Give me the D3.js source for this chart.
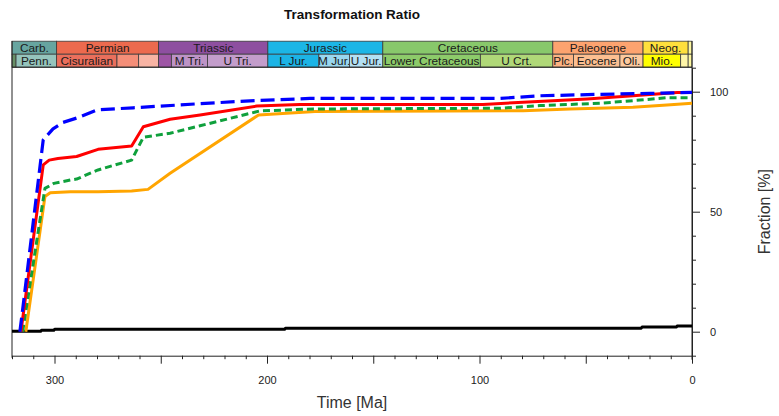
<!DOCTYPE html>
<html>
<head>
<meta charset="utf-8">
<script src="https://cdn.jsdelivr.net/npm/d3@7"></script>
<style>
  body { margin: 0; background: #fff; }
  text { font-family: "Liberation Sans", Arial, sans-serif; }
</style>
</head>
<body>
<svg id="chart" width="779" height="416"></svg>
<script>
// ---- Time axis (Ma) and fraction axis (%) ----
const timeDomain = [320, 0];
const fractionDomain = [-10, 110];
const timeTickLabels = [300, 200, 100, 0];
const fractionTickLabels = [0, 50, 100];

// ---- Stratigraphic chart: periods (upper row) ----
const periodNames = ["Carb.", "Permian", "Triassic", "Jurassic", "Cretaceous", "Paleogene", "Neog.", ""];
const periodBase  = [320, 299.0, 251.0, 199.6, 145.5, 65.5, 23.03, 1.806];
const periodTop   = [299.0, 251.0, 199.6, 145.5, 65.5, 23.03, 1.806, 0];

// ---- Stratigraphic chart: epochs (lower row) ----
const epochNames = ["", "Penn.", "Cisuralian", "", "", "", "M Tri.", "U Tri.", "L Jur.", "M Jur.", "U Jur.",
                    "Lower Cretaceous", "U Crt.", "Plc.", "Eocene", "Oli.", "Mio.", "", ""];
const epochBase  = [320, 318.1, 299.0, 270.6, 260.4, 251.0, 245.0, 228.0, 199.6, 175.6, 161.2,
                    145.5, 99.6, 65.5, 55.8, 33.9, 23.03, 5.332, 1.806];
const epochTop   = [318.1, 299.0, 270.6, 260.4, 251.0, 245.0, 228.0, 199.6, 175.6, 161.2, 145.5,
                    99.6, 65.5, 55.8, 33.9, 23.03, 5.332, 1.806, 0];

// ---- Transformation ratio curves: [age Ma, fraction %] ----
const seriesBlue = [[316.3,0],[315.3,7],[305.3,80],[300.7,84.5],[296,87.2],[289.6,89],[280,92.4],
                    [263,93.3],[231.5,95],[208,96.2],[179.8,97.2],[90.4,97.2],[71.5,98.3],
                    [43.3,98.9],[19.8,99.3],[0,99.7]];
const seriesRed = [[315.8,0],[305.3,69.5],[302.5,71.5],[298.4,72.2],[289.6,73],[279.5,76],[263.7,77.4],
                   [258.2,85.4],[245.6,88.5],[231.5,90.3],[204.8,94],[184.5,94.7],[98.4,94.7],
                   [74.8,95.8],[49.4,97],[27.8,98.3],[7,99.7],[0,99.7]];
const seriesGreen = [[315,0],[304.5,59.7],[300.3,61.8],[292.5,63.2],[289.6,63.6],[279.5,67.4],[263.7,71.5],
                     [258.2,81],[245.6,82.7],[231.5,85.8],[203.3,92],[178.2,92.8],[90.4,93.1],
                     [71.5,94.2],[43.3,95.2],[24.5,96.5],[11.8,97.5],[0,97.5]];
const seriesOrange = [[313.5,0],[304.5,56.3],[302,57.9],[292.5,58.3],[279.5,58.3],[263.7,58.6],[256,59.3],
                      [245.6,66],[204,90.3],[177.4,91.7],[79.5,92.1],[57.4,92.8],[27.8,93.5],
                      [11.8,94.5],[0,95.2]];
const seriesBlack = [[320,0.17],[306.5,0.17],[306.1,0.58],[300.3,0.58],[299.9,1.0],[191.7,1.0],
                     [191.3,1.42],[23.9,1.42],[23.5,1.96],[7.3,1.96],[7.0,2.4],[0,2.4]];

// ---- Styling ----
const periodColors = ["#67a5a0", "#ec6a4e", "#8e4fa0", "#1cb6e6", "#88c86b", "#fda36f", "#ffdf3c", "#fdf7a0"];
const epochColors  = ["#678f66", "#95c4bc", "#ea6f5c", "#f48e78", "#f8b4a4", "#9e55a5", "#bd93c6", "#c39dcb",
                      "#1cb4e6", "#99d7ef", "#b4e0f3", "#8dcb6a", "#b0d878", "#fdb383", "#fcbf91", "#fdca9e",
                      "#ffff00", "#fff6a8", "#fdf7a0"];

const svg = d3.select("#chart");
const plot = { left: 12, right: 692, top: 67.7, bottom: 355.7 };
const x = d3.scaleLinear().domain(timeDomain).range([plot.left, plot.right]);
const y = d3.scaleLinear().domain(fractionDomain).range([plot.bottom, plot.top]);

// Title
svg.append("text")
  .attr("x", (plot.left + plot.right) / 2).attr("y", 19)
  .attr("text-anchor", "middle")
  .style("font-size", "13.5px").style("font-weight", "bold").style("fill", "#111")
  .text("Transformation Ratio");

// Stratigraphic header rows
const defs = svg.append("defs");
function drawRow(names, base, top, colors, y0, h, key) {
  const rows = names.map((n, i) => ({ n, b: base[i], t: top[i], c: colors[i], i }));
  const g = svg.append("g");
  rows.forEach(d => {
    const x0 = x(d.b), x1 = x(d.t);
    defs.append("clipPath").attr("id", `${key}${d.i}`)
      .append("rect").attr("x", x0).attr("y", y0).attr("width", x1 - x0).attr("height", h);
    g.append("rect")
      .attr("x", x0).attr("y", y0).attr("width", x1 - x0).attr("height", h)
      .attr("fill", d.c).attr("stroke", "#3a3a3a").attr("stroke-width", 0.8);
    if (d.n) {
      g.append("text")
        .attr("clip-path", `url(#${key}${d.i})`)
        .attr("x", (x0 + x1) / 2).attr("y", y0 + h - 2.3)
        .attr("text-anchor", "middle")
        .style("font-size", "11.8px").style("fill", "#1a1a1a")
        .text(d.n);
    }
  });
}
drawRow(periodNames, periodBase, periodTop, periodColors, 41.2, 13, "per");
drawRow(epochNames, epochBase, epochTop, epochColors, 54.2, 13, "epo");

// Plot frame: left and top edges
svg.append("line").attr("x1", plot.left).attr("x2", plot.left)
  .attr("y1", 41).attr("y2", plot.bottom + 2).attr("stroke", "#222").attr("stroke-width", 1);
svg.append("line").attr("x1", plot.left).attr("x2", plot.right)
  .attr("y1", plot.top - 0.5).attr("y2", plot.top - 0.5).attr("stroke", "#222").attr("stroke-width", 1);

// Bottom time axis
const xMinor = d3.range(320, -1, -10);
const xAxis = d3.axisBottom(x).tickValues(xMinor)
  .tickSize(3.5).tickSizeOuter(0).tickFormat(() => "");
const gx = svg.append("g").attr("transform", `translate(0,${plot.bottom})`).call(xAxis);
gx.selectAll(".tick line").attr("y2", d => d % 50 === 0 ? 8 : 3.5);
gx.select(".domain").attr("stroke", "#222");
gx.selectAll(".tick line").attr("stroke", "#222");
const xLabelAxis = d3.axisBottom(x).tickValues(timeTickLabels).tickSize(0).tickPadding(21);
const gxl = svg.append("g").attr("transform", `translate(0,${plot.bottom})`).call(xLabelAxis);
gxl.select(".domain").remove();
gxl.selectAll("text").style("font-size", "11px").style("fill", "#222")
  .style("font-family", '"Liberation Sans", Arial, sans-serif');

svg.append("text")
  .attr("x", (plot.left + plot.right) / 2).attr("y", 407.5)
  .attr("text-anchor", "middle")
  .style("font-size", "16px").style("fill", "#333")
  .text("Time [Ma]");

// Right fraction axis
const yMinor = d3.range(-10, 111, 10);
const yAxis = d3.axisRight(y).tickValues(yMinor).tickSize(4).tickSizeOuter(0).tickFormat(() => "");
const gy = svg.append("g").attr("transform", `translate(${plot.right},0)`).call(yAxis);
gy.selectAll(".tick line").attr("x2", d => d % 50 === 0 ? 8 : 4).attr("stroke", "#222");
gy.select(".domain").attr("stroke", "#222");
svg.append("line").attr("x1", plot.right).attr("x2", plot.right)
  .attr("y1", 41).attr("y2", plot.bottom + 4).attr("stroke", "#222").attr("stroke-width", 1);
const yLabelAxis = d3.axisRight(y).tickValues(fractionTickLabels).tickSize(0).tickPadding(18);
const gyl = svg.append("g").attr("transform", `translate(${plot.right},0)`).call(yLabelAxis);
gyl.select(".domain").remove();
gyl.selectAll("text").style("font-size", "11px").style("fill", "#222")
  .style("font-family", '"Liberation Sans", Arial, sans-serif');

svg.append("text")
  .attr("transform", `translate(770,${(plot.top + plot.bottom) / 2}) rotate(-90)`)
  .attr("text-anchor", "middle")
  .style("font-size", "16px").style("fill", "#333")
  .text("Fraction [%]");

// Curves
const line = d3.line().x(d => x(d[0])).y(d => y(d[1]));
const curves = [
  { data: seriesBlack,  color: "#000000", width: 3,   dash: null },
  { data: seriesOrange, color: "#ffa500", width: 3,   dash: null },
  { data: seriesGreen,  color: "#0fa03c", width: 3,   dash: "7,4" },
  { data: seriesRed,    color: "#ff0000", width: 3,   dash: null },
  { data: seriesBlue,   color: "#0000ff", width: 3.2, dash: "14,6" }
];
svg.append("g").selectAll("path").data(curves).join("path")
  .attr("d", d => line(d.data))
  .attr("fill", "none")
  .attr("stroke", d => d.color)
  .attr("stroke-width", d => d.width)
  .attr("stroke-dasharray", d => d.dash)
  .attr("stroke-linejoin", "round");
</script>
</body>
</html>
